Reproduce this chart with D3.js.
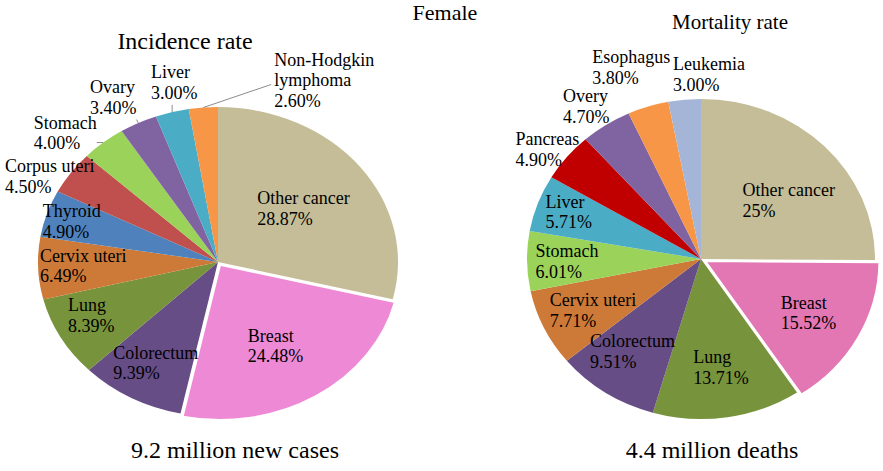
<!DOCTYPE html>
<html>
<head>
<meta charset="utf-8">
<script src="https://cdn.jsdelivr.net/npm/d3@7"></script>
<style>
  body { margin: 0; background: #fff; }
  text { font-family: "Liberation Serif", "Times New Roman", serif; fill: #000; }
</style>
</head>
<body>
<div id="chart"></div>
<script>
// incidence (left pie), clockwise from 12 o'clock
const incidenceNames = ["Other cancer", "Breast", "Colorectum", "Lung", "Cervix uteri", "Thyroid",
  "Corpus uteri", "Stomach", "Ovary", "Liver", "Non-Hodgkin\nlymphoma"];
const incidenceValues = [28.87, 24.48, 9.39, 8.39, 6.49, 4.9, 4.5, 4.0, 3.4, 3.0, 2.6];
const incidenceText = ["28.87%", "24.48%", "9.39%", "8.39%", "6.49%", "4.90%", "4.50%", "4.00%", "3.40%", "3.00%", "2.60%"];
const incidenceColors = ["#c4bd97", "#ee89d5", "#674d86", "#77933c", "#cd7a38", "#4f81bd",
  "#c0504d", "#9bd35a", "#8064a2", "#4bacc6", "#f79646"];

// mortality (right pie)
const mortalityNames = ["Other cancer", "Breast", "Lung", "Colorectum", "Cervix uteri", "Stomach",
  "Liver", "Pancreas", "Overy", "Esophagus", "Leukemia"];
const mortalityValues = [25, 15.52, 13.71, 9.51, 7.71, 6.01, 5.71, 4.9, 4.7, 3.8, 3.0];
const mortalityText = ["25%", "15.52%", "13.71%", "9.51%", "7.71%", "6.01%", "5.71%", "4.90%", "4.70%", "3.80%", "3.00%"];
const mortalityColors = ["#c4bd97", "#e377b4", "#77933c", "#674d86", "#cd7a38", "#9bd35a",
  "#4bacc6", "#c00000", "#8064a2", "#f79646", "#a5b5d8"];

// label placement: [radius factor, angle in degrees] relative to each pie
const incidenceLabelAt = [[0.58, 55], [0.64, 150], [0.75, 207.5], [0.79, 243], [0.75, 267], [0.85, 287],
  [1.08, 300], [1.18, 314], [1.2, 331], [1.17, 348], [1.3, 27]];
const incidenceLeader = [false, false, false, false, false, false, false, true, true, true, true];
const mortalityLabelAt = [[0.615, 55], [0.71, 119.6], [0.70, 170.5], [0.71, 213.7], [0.705, 241.7], [0.77, 268],
  [0.81, 290.3], [1.11, 307.3], [1.15, 325], [1.25, 341.3], [1.14, 2.3]];

const width = 883;
const height = 471;
const lineH = 20.5;

const svg = d3.select("#chart").append("svg").attr("width", width).attr("height", height);

function drawPie(cfg) {
  const pie = d3.pie().sort(null).value((d) => d.value);
  const arcs = pie(cfg.names.map((n, i) => ({ name: n, value: cfg.values[i], i: i })));
  const arc = d3.arc().innerRadius(0).outerRadius(cfg.rx);

  const g = svg.append("g").attr("transform", `translate(${cfg.cx},${cfg.cy}) scale(1,${cfg.ry / cfg.rx})`);
  g.selectAll("path")
    .data(arcs)
    .enter()
    .append("path")
    .attr("d", arc)
    .attr("fill", (d) => cfg.colors[d.data.i])
    .attr("stroke", (d) => (d.data.i === cfg.explode ? "#fff" : "none"))
    .attr("stroke-width", 2)
    .attr("transform", (d) => {
      if (d.data.i !== cfg.explode) return null;
      const a = (d.startAngle + d.endAngle) / 2;
      return `translate(${cfg.pull * Math.sin(a)},${-cfg.pull * Math.cos(a)})`;
    });

  // labels
  arcs.forEach((d) => {
    const [k, deg] = cfg.labelAt[d.data.i];
    const a = (deg * Math.PI) / 180;
    const px = cfg.cx + cfg.rx * k * Math.sin(a);
    const py = cfg.cy - cfg.ry * k * Math.cos(a);
    const lines = d.data.name.split("\n").concat([cfg.text[d.data.i]]);
    const t = svg.append("text").attr("font-size", 18);
    lines.forEach((l, j) => t.append("tspan").attr("x", 0).attr("y", j * lineH).text(l));
    const w = t.node().getBBox().width;
    const x0 = px - w / 2;
    const y0 = py - ((lines.length - 1) * lineH) / 2 + 4;
    t.attr("transform", `translate(${x0},${y0})`);

    if (cfg.leader && cfg.leader[d.data.i]) {
      const m = (d.startAngle + d.endAngle) / 2;
      const ex = cfg.cx + cfg.rx * Math.sin(m);
      const ey = cfg.cy - cfg.ry * Math.cos(m);
      const top = y0 - 13;
      const bottom = y0 + (lines.length - 1) * lineH + 4;
      let lx, ly;
      if (ex < x0 - 2) {
        // label sits to the right of the slice: attach at its left side
        lx = x0 - 3;
        ly = y0 + lineH - 2;
      } else {
        lx = Math.min(ex, x0 + w);
        ly = Math.max(top, Math.min(ey, bottom + 2));
      }
      if (Math.hypot(lx - ex, ly - ey) > 3) {
        svg.append("line")
          .attr("x1", ex).attr("y1", ey)
          .attr("x2", lx).attr("y2", ly)
          .attr("stroke", "#8c8c8c").attr("stroke-width", 1);
      }
    }
  });
}

drawPie({
  cx: 218, cy: 262, rx: 180, ry: 155, explode: 1, pull: 4,
  names: incidenceNames, values: incidenceValues, text: incidenceText,
  colors: incidenceColors, labelAt: incidenceLabelAt, leader: incidenceLeader
});

drawPie({
  cx: 701, cy: 259, rx: 174, ry: 160, explode: 1, pull: 5,
  names: mortalityNames, values: mortalityValues, text: mortalityText,
  colors: mortalityColors, labelAt: mortalityLabelAt
});

// titles
svg.append("text").attr("x", 445).attr("y", 20).attr("font-size", 22).attr("text-anchor", "middle").text("Female");
svg.append("text").attr("x", 185).attr("y", 49).attr("font-size", 24).attr("text-anchor", "middle").text("Incidence rate");
svg.append("text").attr("x", 730).attr("y", 29).attr("font-size", 21).attr("text-anchor", "middle").text("Mortality rate");
svg.append("text").attr("x", 235).attr("y", 458).attr("font-size", 24).attr("text-anchor", "middle").text("9.2 million new cases");
svg.append("text").attr("x", 712).attr("y", 458).attr("font-size", 24).attr("text-anchor", "middle").text("4.4 million deaths");
</script>
</body>
</html>
